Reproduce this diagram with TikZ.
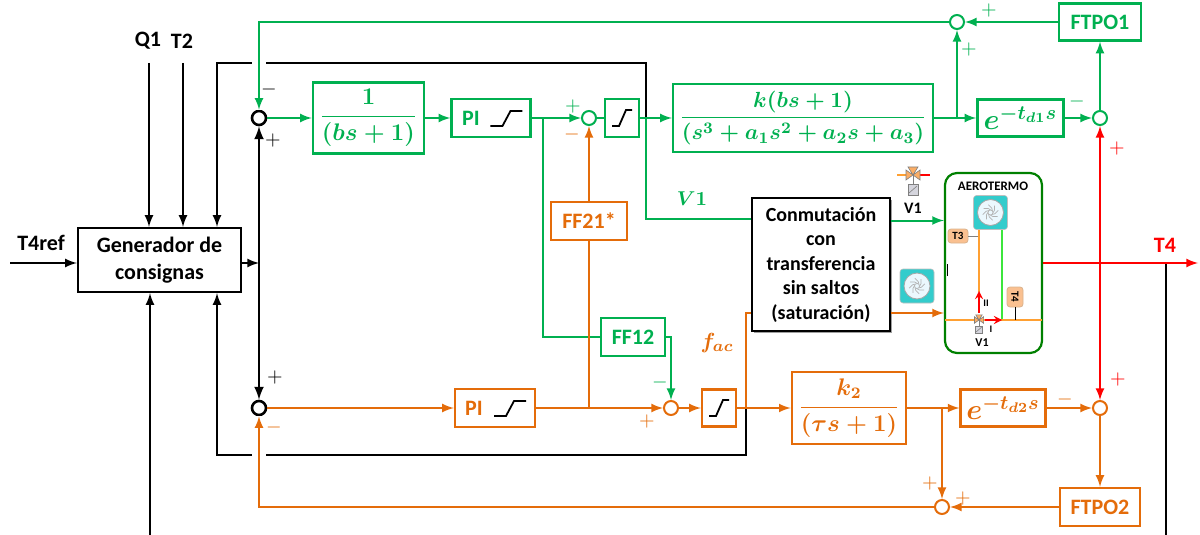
\documentclass[tikz,border=0pt]{standalone}
\usepackage{amsmath}
\usepackage[no-math]{fontspec}
\setmainfont{Carlito}
\usetikzlibrary{positioning, shapes, arrows, shadows}

\definecolor{verde}{RGB}{0,176,80}
\definecolor{naranja}{RGB}{228,108,10}
\definecolor{rojo}{RGB}{255,0,0}
\definecolor{verdeosc}{RGB}{0,128,0}
\definecolor{turquesa}{RGB}{51,204,204}
\definecolor{melocoton}{RGB}{250,192,144}
\definecolor{tuberia}{RGB}{255,160,50}
\definecolor{verdetub}{RGB}{60,230,60}

\tikzset{
  kbox/.style={rectangle, draw, line width=1.2pt, font=\fontsize{11}{13.5}\selectfont\bfseries},
  gbox/.style={rectangle, draw=verde, line width=1.2pt, text=verde, font=\fontsize{11}{13.5}\selectfont\bfseries\boldmath},
  obox/.style={rectangle, draw=naranja, line width=1.2pt, text=naranja, font=\fontsize{11}{13.5}\selectfont\bfseries\boldmath},
  suma/.style={circle, draw, line width=1pt, minimum size=7pt, inner sep=0pt, fill=white},
  sgn/.style={inner sep=0pt},
  etq/.style={inner sep=0pt, font=\fontsize{11}{13}\selectfont\bfseries},
  tag/.style={rectangle, rounded corners=1.5pt, draw=brown!60, fill=melocoton, inner sep=0.5pt, line width=0.4pt, font=\fontsize{5.5}{6}\selectfont\bfseries},
  satsym/.pic={\draw[black, line width=0.9pt] (-16,8) -- (-4,8) -- (4,-7) -- (16,-7);},
  satsmall/.pic={\draw[black, line width=0.9pt] (-10,8) -- (-3,8) -- (4,-8) -- (10,-8);},
  fan/.pic={
    \fill[turquesa, draw=gray!50, line width=0.3pt, rounded corners=1.5pt] (-17,-17) rectangle (17,17);
    \draw[gray!70, fill=cyan!8, line width=0.4pt] (0,0) circle (6.5pt);
    \foreach \a in {0,45,...,315} \draw[gray!60, line width=0.35pt] (\a:1.2pt) arc[start angle=\a, end angle=\a+60, radius=4.5pt];
  },
  valve/.pic={
    \draw[gray, fill=melocoton!70!orange, line width=0.3pt] (-7,-5) -- (0,0) -- (-7,5) -- cycle (7,-5) -- (0,0) -- (7,5) -- cycle (-5,-8) -- (0,0) -- (5,-8) -- cycle;
    \draw[gray, line width=0.5pt] (0,0) -- (0,9);
    \draw[gray, fill=blue!10!gray!30, line width=0.3pt] (-5,9) rectangle (5,20);
    \draw[gray, line width=0.3pt] (-4,18) -- (4,11);
  }
}

\begin{document}
\begin{tikzpicture}[x=0.5pt, y=-0.5pt, >=latex, line width=1pt]
\useasboundingbox (0,0) rectangle (1200,535);

% lazo verde
\node[kbox, minimum width=81.5pt, minimum height=32pt, align=center] (gen) at (159.5,260) {Generador de\\consignas};
\node[suma, line width=1.3pt] (s1) at (259,118) {};
\node[suma, line width=1.3pt] (s2) at (259,408) {};
\node[gbox, minimum width=55.5pt, minimum height=34pt] (blk1) at (368.5,118) {\large$\displaystyle\frac{1}{(bs+1)}$};
\node[gbox, minimum width=39.5pt, minimum height=19pt, right=12.5pt of blk1] (pi1) {PI\rule{20pt}{0pt}};
\node[suma, draw=verde] (sg) at (589,118) {};
\node[gbox, minimum width=17pt, minimum height=19pt] (sat1) at (622,118) {};
\node[gbox, minimum width=130pt, minimum height=34pt, inner xsep=1pt] (blkk) at (803,118) {$\displaystyle\frac{k(bs+1)}{(s^3+a_1s^2+a_2s+a_3)}$};
\node[gbox, minimum width=43pt, minimum height=18.5pt, inner xsep=1pt, right=21pt of blkk] (ed1) {\Large$e^{-t_{d1}s}$};
\node[suma, draw=verde] (sr) at (1100,118) {};
\node[suma, draw=verde] (stop) at (957,22) {};
\node[gbox, minimum width=41pt, minimum height=18.5pt] (ftpo1) at (1100,22) {FTPO1};
\node[gbox, minimum width=32pt, minimum height=19pt] (ff12) at (633,337) {FF12};

% lazo naranja
\node[obox, minimum width=40pt, minimum height=19pt] (pi2) at (495,408) {PI\rule{21pt}{0pt}};
\node[obox, minimum width=38pt, minimum height=19pt] (ff21) at (589,221) {FF21*};
\node[suma, draw=naranja] (so) at (671,408) {};
\node[obox, minimum width=17pt, minimum height=18.5pt] (sat2) at (719,408) {};
\node[obox, minimum width=55pt, minimum height=33.5pt] (blkk2) at (849,408) {\large$\displaystyle\frac{k_2}{(\tau s+1)}$};
\node[obox, minimum width=42.5pt, minimum height=18.5pt, inner xsep=1pt, right=26pt of blkk2] (ed2) {\Large$e^{-t_{d2}s}$};
\node[suma, draw=naranja] (sb) at (1100,408) {};
\node[suma, draw=naranja] (sbot) at (942,507) {};
\node[obox, minimum width=40pt, minimum height=19pt] (ftpo2) at (1100,507) {FTPO2};

\pic at ([xshift=7.75pt]pi1.center) {satsym};
\pic at ([xshift=7.5pt]pi2.center) {satsym};
\pic at (sat1.center) {satsmall};
\pic at (sat2.center) {satsmall};

% conmutacion y aerotermo
\node[kbox, fill=white, font=\fontsize{10}{12.25}\selectfont\bfseries, align=center, minimum width=69pt, minimum height=66.5pt, drop shadow={shadow xshift=1.2pt, shadow yshift=-1.2pt, fill=black!75}] (conm) at (821,264.5) {Conmutación\\con\\transferencia\\sin saltos\\(saturación)};
\node[rectangle, rounded corners=6pt, draw=verdeosc, line width=1.1pt, minimum width=48.5pt, minimum height=90pt] (aero) at (993.5,263) {};
\node[inner sep=0pt, font=\fontsize{6.5}{7}\selectfont\bfseries] (aerot) at (993,186) {AEROTERMO};

% senales negras
\coordinate (t4in) at (10,263);
\coordinate (cq1) at (149,63);
\coordinate (ct2) at (183,63);
\coordinate (fb1) at (217,63);
\coordinate (fb2) at (217,455);
\coordinate (cb) at (150,535);
\coordinate (gj) at (259,263);
\coordinate (j1) at (646,118);
\coordinate (j5) at (746,408);
\coordinate (j8) at (1166,263);
\draw[->] (t4in) -- (t4in -| gen.west);
\draw[->] (cq1) -- (cq1 |- gen.north);
\draw[->] (ct2) -- (ct2 |- gen.north);
\draw[->] (j1) |- (fb1) -- (fb1 |- gen.north);
\draw[->] (j5) |- (fb2) -- (fb2 |- gen.south);
\draw[->] (cb) -- (cb |- gen.south);
\draw[->] (gen.east |- gj) -- (gj);
\draw[->, line width=1.2pt] (gj) -- (s1);
\draw[->, line width=1.2pt] (gj) -- (s2);
\draw (j8) -- (j8 |- cb);

% senales verdes
\coordinate (j2) at (543,118);
\coordinate (j3) at (957,118);
\coordinate (cv1) at ([yshift=22.75pt]conm.west);
\coordinate (cv2) at ([yshift=22pt]conm.east);
\draw[verde, ->, preaction={draw=white, line width=7pt, -}] (stop) -| (s1);
\draw[verde, ->] (s1) -- (blk1);
\draw[verde, ->] (blk1) -- (pi1);
\draw[verde, ->] (pi1) -- (sg);
\draw[verde] (sg) -- (sat1);
\draw[verde] (sat1) -- (j1);
\draw[verde, ->] (j1) -- (blkk);
\draw[verde] (j1) |- (cv1);
\draw[verde] (j2) |- (ff12);
\draw[verde, ->] (ff12) -| (so);
\draw[verde, ->] (blkk) -- (ed1);
\draw[verde, ->] (j3) -- (stop);
\draw[verde, ->] (ed1) -- (sr);
\draw[verde, ->] (sr) -- (ftpo1);
\draw[verde, ->] (ftpo1) -- (stop);
\draw[verde, ->] (cv2) -- (cv2 -| aero.west);

% senales naranjas
\coordinate (j4) at (589,408);
\coordinate (j6) at (942,408);
\coordinate (co1) at ([yshift=-24.25pt]conm.west);
\coordinate (co2) at ([yshift=-24.25pt]conm.east);
\draw[naranja, ->, preaction={draw=white, line width=7pt, -}] (sbot) -| (s2);
\draw[naranja, ->] (s2) -- (pi2);
\draw[naranja, ->] (pi2) -- (so);
\draw[naranja] (j4) -- (ff21);
\draw[naranja, ->] (ff21) -- (sg);
\draw[naranja, ->] (so) -- (sat2);
\draw[naranja] (sat2) -- (j5);
\draw[naranja, ->] (j5) -- (blkk2);
\draw[naranja] (j5) |- (co1);
\draw[naranja, ->] (blkk2) -- (ed2);
\draw[naranja, ->] (j6) -- (sbot);
\draw[naranja, ->] (ed2) -- (sb);
\draw[naranja, ->] (sb) -- (ftpo2);
\draw[naranja, ->] (ftpo2) -- (sbot);
\draw[naranja, ->] (co2) -- (co2 -| aero.west);

% senal roja T4
\coordinate (t4out) at (1198,263);
\coordinate (j7) at (1100,263);
\draw[rojo, ->] (aero.east) -- (t4out);
\draw[rojo, ->] (j7) -- (sr);
\draw[rojo, ->] (j7) -- (sb);

% interior del aerotermo
\draw[tuberia, line width=0.8pt] (979,230) -- (979,292);
\draw[rojo, line width=0.8pt, ->, >=stealth] (979,313) -- (979,291);
\draw[verdetub, line width=0.8pt] (1002,230) -- (1002,320);
\draw[tuberia, line width=0.8pt] (945,320) -- (1042,320);
\draw[rojo, line width=0.8pt, ->, >=stealth] (985,320) -- (1002,320);
\pic at (990.5,212.5) {fan};
\pic at (917,286) {fan};
\pic[scale=0.65] at (979,320) {valve};
\node[tag, minimum width=10pt, minimum height=7pt] (t3) at (958,236) {T3};
\draw[gray, line width=0.5pt] (t3.east) -- ++(5pt,0);
\node[tag, rotate=-90, minimum width=10pt, minimum height=8pt] (t4tag) at (1015,297) {T4};
\draw[black, line width=0.5pt] (t4tag.east) -- ++(0,-6.5pt);
\node[inner sep=0pt, font=\fontsize{5}{5}\selectfont\bfseries] (lii) at (986,303) {II};
\node[inner sep=0pt, font=\fontsize{5}{5}\selectfont\bfseries] (li) at (991,329) {I};
\node[inner sep=0pt, font=\fontsize{6}{6}\selectfont\bfseries] (lv1b) at (982,343) {V1};
\draw[black, line width=0.5pt] (947,264) -- (947,276);

% valvula V1
\draw[tuberia, line width=1.2pt] (897,175) -- (906,175);
\draw[rojo, line width=1.2pt] (920,175) -- (930,175);
\pic at (913,175) {valve};
\node[inner sep=0pt, font=\fontsize{8}{9}\selectfont\bfseries] (lv1a) at (913,208) {V1};

% etiquetas
\node[etq] (lt4ref) at (41,243) {T4ref};
\node[etq] (lq1) at (148,41) {Q1};
\node[etq] (lt2) at (182,41) {T2};
\node[etq, text=rojo] (lt4) at (1165,245) {T4};
\node[inner sep=0pt, text=verde, font=\boldmath] (lv1) at (692,199) {$V1$};
\node[inner sep=0pt, text=naranja, font=\fontsize{11}{13}\selectfont\boldmath] (lfac) at (717,343) {$f_{ac}$};

% signos
\node[sgn] (m1) at (269,90) {$-$};
\node[sgn] (p1) at (273,141) {$+$};
\node[sgn] (p2) at (275,377) {$+$};
\node[sgn, text=naranja] (m2) at (274,427) {$-$};
\node[sgn, text=verde] (p3) at (573,107) {$+$};
\node[sgn, text=naranja] (m3) at (572,135) {$-$};
\node[sgn, text=verde] (m4) at (660,382) {$-$};
\node[sgn, text=naranja] (p4) at (647,421) {$+$};
\node[sgn, text=verde] (p5) at (989,11) {$+$};
\node[sgn, text=verde] (p6) at (969,50) {$+$};
\node[sgn, text=verde] (m5) at (1077,102) {$-$};
\node[sgn, text=rojo] (p7) at (1117,149) {$+$};
\node[sgn, text=naranja] (m6) at (1065,399) {$-$};
\node[sgn, text=rojo] (p8) at (1118,379) {$+$};
\node[sgn, text=naranja] (p9) at (930,483) {$+$};
\node[sgn, text=naranja] (p10) at (963,498) {$+$};
\end{tikzpicture}
\end{document}
